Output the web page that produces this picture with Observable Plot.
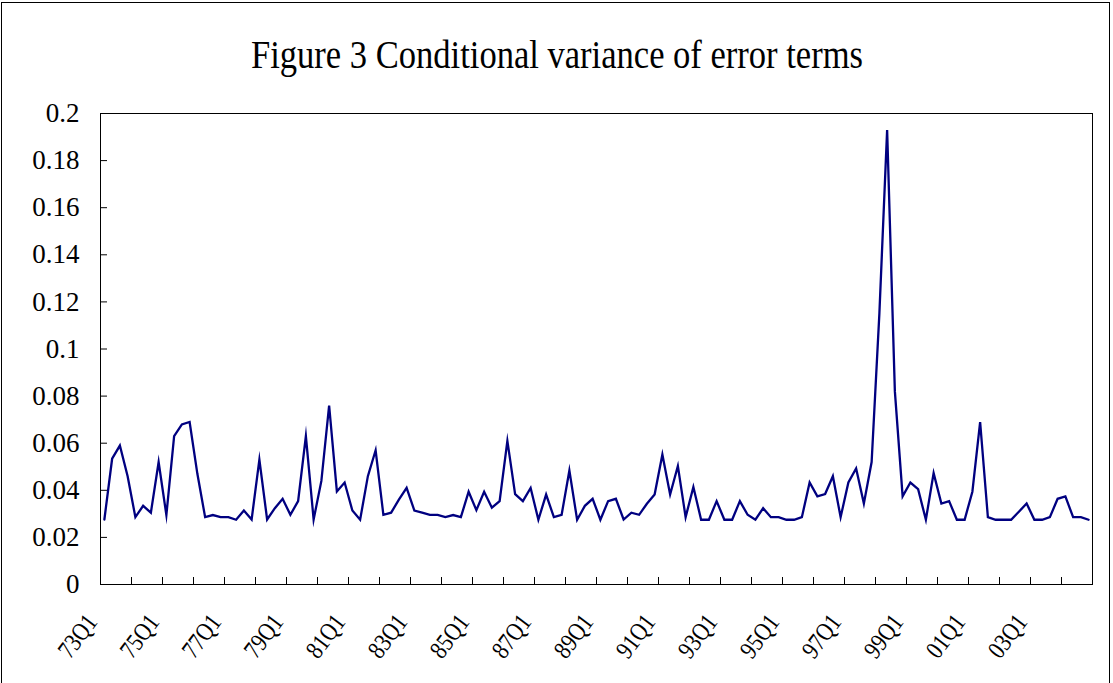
<!DOCTYPE html>
<html>
<head>
<meta charset="utf-8">
<script src="https://cdn.jsdelivr.net/npm/d3@7"></script>
<script src="https://cdn.jsdelivr.net/npm/@observablehq/plot@0.6"></script>
<style>
  html, body { margin: 0; padding: 0; background: #fff; }
  #wrap { position: relative; width: 1113px; height: 683px; overflow: hidden; }
  #border { position: absolute; left: 1px; top: 2px; width: 1109px; height: 720px; border: 1px solid #000; box-sizing: border-box; }
  #title { position: absolute; left: 0; top: 0; }
  #chart { position: absolute; left: 0; top: 0; }
</style>
</head>
<body>
<div id="wrap">
  <div id="border"></div>
  <div id="chart"></div>
  <svg id="title" width="1113" height="100"></svg>
</div>
<script>
// Quarter categories 1973Q1 .. 2004Q4
const years = d3.range(1973, 2005);
const quarterNames = ["Q1", "Q2", "Q3", "Q4"];
const quarters = years.flatMap(y => quarterNames.map(q => String(y % 100).padStart(2, "0") + q));

// Conditional variance values
const variance = [
  0.0276, 0.0534, 0.0590, 0.0460, 0.0286, 0.0334, 0.0305, 0.0520,
  0.0295, 0.0630, 0.0680, 0.0690, 0.0470, 0.0286, 0.0295, 0.0286,
  0.0286, 0.0275, 0.0314, 0.0276, 0.0530, 0.0276, 0.0324, 0.0364,
  0.0296, 0.0354, 0.0630, 0.0276, 0.0440, 0.0760, 0.0395, 0.0433,
  0.0314, 0.0275, 0.0460, 0.0570, 0.0296, 0.0305, 0.0360, 0.0410,
  0.0314, 0.0305, 0.0296, 0.0296, 0.0286, 0.0295, 0.0286, 0.0394,
  0.0316, 0.0394, 0.0326, 0.0354, 0.0610, 0.0384, 0.0354, 0.0410,
  0.0275, 0.0382, 0.0286, 0.0296, 0.0484, 0.0275, 0.0334, 0.0364,
  0.0275, 0.0354, 0.0364, 0.0276, 0.0305, 0.0296, 0.0343, 0.0382,
  0.0552, 0.0382, 0.0503, 0.0286, 0.0414, 0.0275, 0.0275, 0.0354,
  0.0275, 0.0275, 0.0354, 0.0296, 0.0275, 0.0324, 0.0286, 0.0286,
  0.0275, 0.0275, 0.0286, 0.0433, 0.0374, 0.0384, 0.0460, 0.0286,
  0.0433, 0.0493, 0.0344, 0.0520, 0.1150, 0.1930, 0.0820, 0.0374,
  0.0433, 0.0405, 0.0275, 0.0473, 0.0344, 0.0354, 0.0275, 0.0275,
  0.0394, 0.0690, 0.0286, 0.0275, 0.0275, 0.0275, 0.0309, 0.0344,
  0.0275, 0.0275, 0.0286, 0.0364, 0.0374, 0.0286, 0.0286, 0.0275
];

const xTickLabels = ["73Q1", "75Q1", "77Q1", "79Q1", "81Q1", "83Q1", "85Q1", "87Q1",
                     "89Q1", "91Q1", "93Q1", "95Q1", "97Q1", "99Q1", "01Q1", "03Q1"];
const yTicks = [0, 0.02, 0.04, 0.06, 0.08, 0.1, 0.12, 0.14, 0.16, 0.18, 0.2];
const titleText = "Figure 3 Conditional variance of error terms";

const data = variance.map((v, i) => ({i, q: quarters[i], v}));
const labelData = xTickLabels.map(l => ({i: quarters.indexOf(l), l}));
// tick marks at category boundaries, every 4 quarters (yearly)
const yearBoundaries = quarters.map((q, i) => i - 0.5).filter((b, i) => i > 0 && i % 4 === 0);

const W = 1113, H = 683, mL = 100, mR = 21, mT = 113, mB = 99;
const plotW = W - mL - mR, plotH = H - mT - mB;
const fmt = d => d === 0 ? "0" : String(+d.toFixed(2));
const serif = '"Liberation Serif", "Times New Roman", "DejaVu Serif", serif';

const chart = Plot.plot({
  width: W, height: H,
  marginLeft: mL, marginRight: mR, marginTop: mT, marginBottom: mB,
  style: {fontFamily: serif, fontSize: "27px", color: "#000", background: "transparent", overflow: "visible"},
  x: {type: "linear", domain: [-0.5, quarters.length - 0.5], axis: null},
  y: {domain: [0, 0.2], axis: null},
  marks: [
    Plot.frame({stroke: "#000", strokeWidth: 1}),
    Plot.tickY(yTicks, {y: d => d, insetRight: plotW - 7, stroke: "#000", strokeWidth: 1}),
    Plot.tickX(yearBoundaries, {x: d => d, insetTop: plotH - 7, stroke: "#000", strokeWidth: 1}),
    Plot.text(yTicks, {y: d => d, text: fmt, frameAnchor: "left", textAnchor: "end", dx: -21, fill: "#000", fontSize: 27}),
    Plot.text(labelData, {x: "i", text: "l", frameAnchor: "bottom", rotate: -53, textAnchor: "end", lineAnchor: "middle", dx: -12.5, dy: 33, fill: "#000", fontSize: 25.5}),
    Plot.line(data, {x: "i", y: "v", stroke: "#000080", strokeWidth: 2.3, strokeLinejoin: "miter", strokeMiterlimit: 10})
  ]
});
document.getElementById("chart").appendChild(chart);

// condense the rotated category labels along their baseline (as in the source picture)
d3.select(chart).selectAll("text").each(function() {
  if (xTickLabels.includes(this.textContent)) {
    const t = this.getAttribute("transform") || "";
    this.setAttribute("transform", t + " scale(0.83,1)");
  }
});

// Title (condensed serif text like the source)
const tsvg = d3.select("#title");
tsvg.append("text")
  .attr("x", 557).attr("y", 68)
  .attr("text-anchor", "middle")
  .attr("font-family", serif)
  .attr("font-size", 41)
  .attr("textLength", 612)
  .attr("lengthAdjust", "spacingAndGlyphs")
  .attr("fill", "#000")
  .text(titleText);
</script>
</body>
</html>
